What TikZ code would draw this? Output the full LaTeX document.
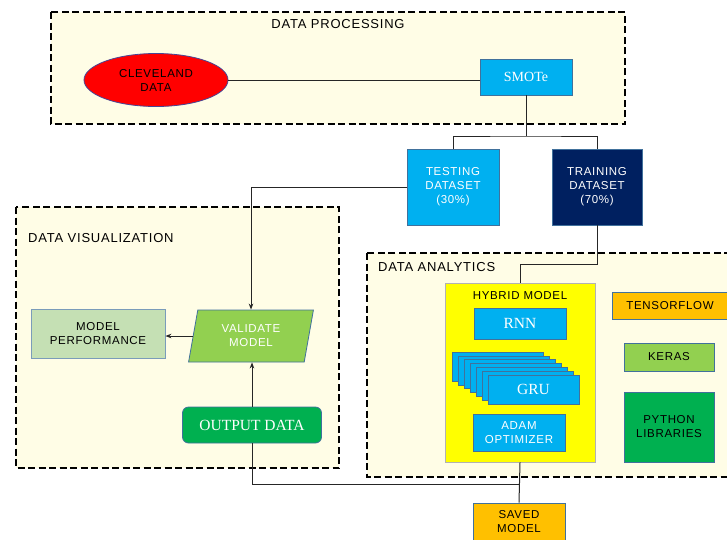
\documentclass[tikz,border=0pt]{standalone}
\usepackage{fontspec}
\setmainfont{Liberation Sans}[LetterSpace=6]
\newfontfamily\seriff{Liberation Serif}
\usetikzlibrary{shapes.geometric,arrows.meta}
\definecolor{cream}{HTML}{FFFDE6}
\definecolor{lblue}{HTML}{00B0F0}
\definecolor{navy}{HTML}{002060}
\definecolor{lgreen}{HTML}{92D050}
\definecolor{dgreen}{HTML}{00B050}
\definecolor{pgreen}{HTML}{C5E0B4}
\definecolor{orng}{HTML}{FFC000}
\definecolor{bd}{HTML}{41719C}
\definecolor{yel}{HTML}{FFFF00}
\tikzset{
  group/.style={draw=black, line width=2.4pt, dash pattern=on 7pt off 3.5pt, fill=cream},
  gtitle/.style={font=\fontsize{13}{15}\selectfont, inner sep=0pt},
  box/.style={draw=bd, line width=0.8pt, align=center, inner sep=0pt, font=\fontsize{11.5}{14}\selectfont},
  sbox/.style={box, font=\seriff\fontsize{15.5}{17}\selectfont},
  conn/.style={draw=black!85, line width=1pt},
  arr/.style={conn, -{Stealth[length=6pt,width=4.5pt]}}
}
\begin{document}
\begin{tikzpicture}[x=1pt,y=-1pt]
\clip (0,0) rectangle (727,539);
\fill[white] (0,0) rectangle (727,539);
% groups
\draw[group] (51,12) rectangle (625,124);
\draw[group] (16,207) rectangle (339,468);
\draw[group] (367,253) rectangle (745,477);
\node[gtitle] (tproc) at (338,24) {DATA PROCESSING};
\node[gtitle, anchor=west] (tvis) at (28,238) {DATA VISUALIZATION};
\node[gtitle, anchor=west] (tana) at (378,267) {DATA ANALYTICS};
% nodes
\node[box, ellipse, fill=red, draw={rgb,255:red,70;green,70;blue,150}, minimum width=144, minimum height=53] (clev) at (156,80) {CLEVELAND\\DATA};
\node[sbox, fill=lblue, text=white, minimum width=92, minimum height=36, font=\seriff\fontsize{14}{16}\selectfont] (smote) at (526,77) {SMOTe};
\node[box, fill=lblue, text=white, minimum width=92, minimum height=76] (test) at (453,187) {TESTING\\DATASET\\(30\%)};
\node[box, fill=navy, text=white, minimum width=90, minimum height=76] (train) at (597,187) {TRAINING\\DATASET\\(70\%)};
\node[box, fill=yel, draw=black!30, minimum width=150, minimum height=179] (hyb) at (520,372.5) {};
\node[gtitle, font=\fontsize{11.5}{14}\selectfont] (thyb) at (520,296) {HYBRID MODEL};
\node[sbox, fill=lblue, text=white, minimum width=92, minimum height=31] (rnn) at (520,323.5) {RNN};
\foreach \i in {0,...,5}{
  \draw[draw=bd, line width=0.8pt, fill=lblue] ({452+6*\i},{352+3.9*\i}) rectangle ++(91,29);
}
\node[sbox, fill=lblue, text=white, minimum width=91, minimum height=29] (gru) at (533.5,389.5) {GRU};
\node[box, fill=lblue, text=white, minimum width=92, minimum height=37] (adam) at (519,432.5) {ADAM\\OPTIMIZER};
\node[box, fill=orng, minimum width=116, minimum height=27] (tf) at (670,305.5) {TENSORFLOW};
\node[box, fill=lgreen, minimum width=90, minimum height=28] (keras) at (669,357) {KERAS};
\node[box, fill=dgreen, minimum width=90, minimum height=70] (py) at (669,427) {PYTHON\\LIBRARIES};
\node[box, fill=orng, minimum width=92, minimum height=38] (saved) at (519,522) {SAVED\\MODEL};
\node[box, fill=pgreen, draw=bd!70, minimum width=134, minimum height=49] (mp) at (98,334) {MODEL\\PERFORMANCE};
\node[box, trapezium, trapezium stretches=true, trapezium left angle=77, trapezium right angle=103, fill=lgreen, text=white, minimum width=125, minimum height=52] (val) at (251,336) {VALIDATE\\MODEL};
\node[sbox, fill=dgreen, text=white, rounded corners=6pt, minimum width=139, minimum height=36] (out) at (252,425) {OUTPUT DATA};
% junction coordinates
\coordinate (j1) at (0,136);
\coordinate (j2) at (0,264);
\coordinate (j3) at (0,484);
% connectors
\draw[conn] (clev.east) -- (clev.east -| smote.west);
\draw[conn] (smote.south) -- (smote.south |- j1);
\draw[conn] (test.north) |- (j1 -| smote.south) -| (train.north);
\draw[arr] (test.west) -| (val.north);
\draw[arr] (val.west) -- (val.west -| mp.east);
\draw[arr] (out.north) -- (out.north |- val.south);
\draw[conn] (train.south) -- (train.south |- j2) -| (hyb.north);
\draw[conn] (out.south) -- (out.south |- j3) -- (j3 -| hyb.south);
\draw[conn] (hyb.south) -- (saved.north);
\end{tikzpicture}
\end{document}
